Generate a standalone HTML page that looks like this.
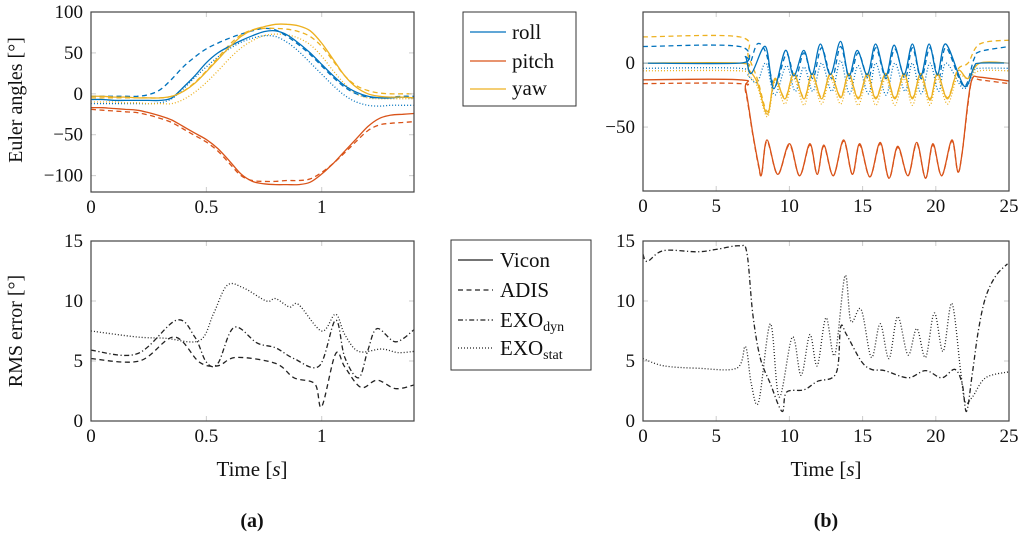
<!DOCTYPE html>
<html><head><meta charset="utf-8">
<style>
html,body{margin:0;padding:0;background:#fff;}
svg{display:block;font-family:"Liberation Serif",serif;}
</style></head>
<body>
<svg id="fig" width="1024" height="536" viewBox="0 0 1024 536" xmlns="http://www.w3.org/2000/svg">
<g id="marks"></g>
<g id="frames"></g>
<g>
  <rect x="463" y="12" width="113" height="94" fill="#fff" stroke="#333" stroke-width="1"/>
  <line x1="470" y1="32" x2="506" y2="32" stroke="#0072BD" stroke-width="1.3"/>
  <text x="512" y="39" font-size="21" fill="#111">roll</text>
  <line x1="470" y1="61" x2="506" y2="61" stroke="#D95319" stroke-width="1.3"/>
  <text x="512" y="68" font-size="21" fill="#111">pitch</text>
  <line x1="470" y1="89" x2="506" y2="89" stroke="#EDB120" stroke-width="1.3"/>
  <text x="512" y="95" font-size="21" fill="#111">yaw</text>
</g>
<g>
  <rect x="451" y="240" width="140" height="130" fill="#fff" stroke="#333" stroke-width="1"/>
  <line x1="458" y1="260" x2="493" y2="260" stroke="#222" stroke-width="1.2"/>
  <text x="500" y="267" font-size="21" fill="#111">Vicon</text>
  <line x1="458" y1="290" x2="493" y2="290" stroke="#222" stroke-width="1.2" stroke-dasharray="5,3.5"/>
  <text x="500" y="297" font-size="21" fill="#111">ADIS</text>
  <line x1="458" y1="320" x2="493" y2="320" stroke="#222" stroke-width="1.2" stroke-dasharray="5,2.5,1.2,2.5"/>
  <text x="500" y="327" font-size="21" fill="#111">EXO<tspan font-size="14" dy="4">dyn</tspan></text>
  <line x1="458" y1="348" x2="493" y2="348" stroke="#222" stroke-width="1.2" stroke-dasharray="1,2"/>
  <text x="500" y="355" font-size="21" fill="#111">EXO<tspan font-size="14" dy="4">stat</tspan></text>
</g>
<text x="22" y="100" font-size="20" text-anchor="middle" transform="rotate(-90 22 100)" fill="#111">Euler angles [°]</text>
<text x="22" y="331" font-size="20" text-anchor="middle" transform="rotate(-90 22 331)" fill="#111">RMS error [°]</text>
<text x="252" y="476" font-size="21" text-anchor="middle" fill="#111">Time [<tspan font-style="italic">s</tspan>]</text>
<text x="826" y="476" font-size="21" text-anchor="middle" fill="#111">Time [<tspan font-style="italic">s</tspan>]</text>
<text x="252" y="527" font-size="20" font-weight="bold" text-anchor="middle" fill="#111">(a)</text>
<text x="826" y="527" font-size="20" font-weight="bold" text-anchor="middle" fill="#111">(b)</text>
</svg>
<script>
// ---------- data: panel (a) Euler angles ----------
const tA = [0,0.05,0.1,0.15,0.2,0.25,0.3,0.35,0.4,0.45,0.5,0.55,0.6,0.65,0.7,0.75,0.8,0.85,0.9,0.95,1.0,1.05,1.1,1.15,1.2,1.25,1.3,1.35,1.4];
const rollViconA = [-7,-7,-8,-8,-8,-8,-8,-5,8,22,38,50,58,65,71,76,77,72,62,50,36,22,10,2,-3,-5,-5,-4,-5];
const rollAdisA  = [-3,-3,-3,-3,-3,-1,5,18,33,45,55,62,68,73,77,80,78,70,60,48,34,20,8,0,-4,-5,-4,-3,-3];
const rollStatA  = [-12,-12,-12,-12,-12,-12,-11,-6,6,20,33,45,55,63,68,71,70,63,52,38,24,10,-2,-10,-14,-15,-14,-14,-14];
const pitchViconA= [-17,-17,-18,-19,-20,-23,-27,-32,-40,-48,-56,-67,-82,-98,-107,-110,-111,-111,-111,-108,-98,-85,-70,-55,-40,-30,-26,-25,-24];
const pitchAdisA = [-19,-20,-21,-22,-23,-26,-30,-35,-43,-51,-59,-70,-85,-100,-106,-107,-107,-106,-106,-104,-96,-85,-72,-58,-45,-38,-36,-35,-34];
const yawViconA  = [-3,-3,-4,-4,-5,-5,-5,-3,3,13,27,42,57,70,78,82,85,85,83,77,62,42,22,8,0,-3,-4,-4,-5];
const yawAdisA   = [-5,-5,-5,-5,-5,-5,-5,-3,3,14,28,44,60,72,78,80,80,79,76,70,58,40,22,10,4,1,0,0,0];
const yawStatA   = [-10,-10,-10,-11,-11,-12,-12,-12,-7,2,14,28,43,56,65,71,73,72,68,60,46,28,12,0,-5,-6,-6,-6,-6];
// ---------- data: panel (a) RMS ----------
const tAdisRmsA = [0,0.21,0.36,0.47,0.55,0.63,0.8,0.88,0.97,1.0,1.06,1.1,1.17,1.24,1.32,1.4];
const vAdisRmsA = [5.2,5.0,7.0,4.9,4.6,5.3,4.8,3.6,3.1,1.2,5.6,4.5,2.8,3.4,2.7,3.0];
const tDynRmsA = [0,0.2,0.37,0.45,0.5,0.55,0.62,0.72,0.8,0.88,0.99,1.06,1.1,1.16,1.2,1.24,1.32,1.4];
const vDynRmsA = [5.9,5.6,8.4,7.0,4.9,4.8,7.8,6.5,6.1,5.2,4.6,8.4,5.3,3.6,5.9,7.7,6.6,7.6];
const tStatRmsA = [0,0.2,0.32,0.47,0.53,0.59,0.66,0.76,0.8,0.86,0.9,1.0,1.06,1.1,1.16,1.26,1.33,1.4];
const vStatRmsA = [7.5,7.0,6.9,6.7,8.9,11.3,11.1,10.0,10.2,9.5,9.7,7.5,8.9,7.2,5.8,6.0,5.7,5.8];
// ---------- data: panel (b) Euler angles ----------
const tRollB = [0,6.6,7.0,7.4,8.36,8.93,9.73,10.3,10.98,11.55,12.12,12.8,13.49,14.06,14.63,15.32,15.89,16.58,17.15,17.83,18.4,18.97,19.54,20.11,20.68,21.94,22.6,23,25];
const rollViconB = [0,0,5,-8,13,-20,10,-10,10,-9,15,-9,17,-10,10,-9,15,-10,14,-9,15,-10,15,-9,15,-18,-3,0,0];
const tRoll2B = [0,6.6,7.2,7.8,8.4,9.0,9.8,10.4,11.0,11.6,12.2,12.9,13.5,14.1,14.7,15.4,15.9,16.6,17.2,17.9,18.4,19.0,19.6,20.2,20.7,21.9,22.6,23,25];
const rollAdisB = [13,13,-2,15,8,-18,7,-12,8,-12,12,-12,13,-12,8,-12,12,-12,11,-12,12,-12,12,-12,12,-18,3,9,13];
const rollStatB = [-4,-4,-10,-15,0,-25,-2,-22,-3,-22,0,-22,2,-24,-2,-24,0,-25,0,-22,0,-24,0,-22,0,-20,-6,-4,-4];
const tYawB = [0,6.6,7.2,7.8,8.5,9.0,9.7,10.3,11.0,11.55,12.2,12.8,13.5,14.06,14.7,15.32,15.9,16.58,17.2,17.83,18.4,18.97,19.6,20.11,20.8,21.5,22.2,23,25];
const yawViconB = [0,0,-5,-15,-40,-12,-28,-8,-28,-8,-28,-8,-27,-8,-28,-8,-28,-8,-28,-8,-28,-8,-29,-8,-28,-6,-12,0,0];
const yawAdisB  = [20.5,20.5,5,-12,-38,-13,-27,-9,-27,-9,-27,-9,-26,-9,-27,-9,-27,-9,-27,-9,-27,-9,-28,-9,-27,-5,0,15,18];
const yawStatB  = [-6,-6,-10,-18,-42,-15,-32,-12,-33,-12,-32,-12,-32,-12,-33,-12,-33,-12,-33,-12,-33,-12,-33,-12,-32,-10,-12,-6,-6];
const tPitchB = [0,6.6,7.0,7.5,7.9,8.1,8.47,9.2,10.0,10.7,11.4,11.9,12.35,13.0,13.7,14.3,14.8,15.5,16.2,16.8,17.4,18.1,18.7,19.3,19.8,20.4,21.1,21.5,21.8,22.2,22.5,23,25];
const pitchViconB = [-13,-13,-20,-55,-80,-87,-60,-87,-63,-88,-63,-87,-64,-88,-60,-87,-63,-89,-62,-90,-65,-88,-62,-90,-63,-88,-60,-85,-70,-30,-12,-11,-14];
const pitchAdisB  = [-16,-16,-22,-56,-81,-87,-61,-87,-64,-88,-64,-87,-65,-88,-61,-87,-64,-89,-63,-90,-66,-88,-63,-90,-64,-88,-61,-85,-70,-32,-12,-13,-16];
// ---------- data: panel (b) RMS ----------
const tDynRmsB = [0,0.3,1.4,3.7,5.0,6.6,7.1,7.5,8.0,8.7,9.5,9.8,11.0,11.9,13.2,13.5,13.9,14.9,15.6,16.5,18.1,19.3,20.4,21.3,21.8,22.1,22.5,22.9,23.4,24.1,24.9];
const vDynRmsB = [13.9,13.3,14.2,14.1,14.3,14.6,14.0,8.9,5.3,3.1,0.8,2.4,2.6,3.3,4.0,7.8,7.2,5.0,4.3,4.2,3.6,4.2,3.6,4.3,3.1,0.8,4.0,7.5,10.3,12.1,13.1];
const tStatRmsB = [0,1.4,3.7,6.4,7.0,7.4,7.9,8.7,9.3,10.2,10.8,11.4,11.9,12.5,13.1,13.8,14.2,14.9,15.6,16.2,16.8,17.4,18.1,18.7,19.3,19.9,20.5,21.1,21.7,22.0,22.5,23.4,25];
const vStatRmsB = [5.2,4.6,4.4,4.4,6.2,3.1,1.6,8.1,2.0,7.0,3.8,7.2,4.6,8.6,5.5,12.1,8.3,9.3,5.3,8.1,5.2,8.7,5.5,7.7,5.3,9.0,5.8,9.8,4.1,1.6,2.0,3.6,4.1];
// ticks
const xTicksA = [0,0.5,1];
const xTicksB = [0,5,10,15,20,25];
const yTicksEulerA = [100,50,0,-50,-100];
const yTicksEulerB = [0,-50];
const yTicksRms = [15,10,5,0];

const NS='http://www.w3.org/2000/svg';
const marks=document.getElementById('marks');
const frames=document.getElementById('frames');
function scale(d0,d1,r0,r1){return v=>r0+(v-d0)/(d1-d0)*(r1-r0);}
const P = {
  a1:{x0:91,x1:414,y0:12,y1:192,xs:scale(0,1.4,91,414),ys:scale(-120,100,192,12)},
  a2:{x0:91,x1:414,y0:241,y1:421,xs:scale(0,1.4,91,414),ys:scale(0,15,421,241)},
  b1:{x0:643,x1:1009,y0:12,y1:191,xs:scale(0,25,643,1009),ys:scale(-100,40,191,12)},
  b2:{x0:643,x1:1009,y0:241,y1:421,xs:scale(0,25,643,1009),ys:scale(0,15,421,241)}
};
const BLUE='#0072BD',RED='#D95319',YEL='#EDB120',BLK='#222';
const DASH={solid:null,dash:'5,3.5',dashdot:'5,2.5,1.2,2.5',dot:'1,2'};
function smoothPath(pts){
  let d='M'+pts[0][0].toFixed(1)+','+pts[0][1].toFixed(1);
  for(let i=0;i<pts.length-1;i++){
    const p0=pts[Math.max(i-1,0)],p1=pts[i],p2=pts[i+1],p3=pts[Math.min(i+2,pts.length-1)];
    const k=1/6;
    const c1=[p1[0]+(p2[0]-p0[0])*k,p1[1]+(p2[1]-p0[1])*k];
    const c2=[p2[0]-(p3[0]-p1[0])*k,p2[1]-(p3[1]-p1[1])*k];
    d+=' C'+c1[0].toFixed(1)+','+c1[1].toFixed(1)+' '+c2[0].toFixed(1)+','+c2[1].toFixed(1)+' '+p2[0].toFixed(1)+','+p2[1].toFixed(1);
  }
  return d;
}
function series(panel,ts,vs,color,style,name){
  const p=P[panel];
  const pts=ts.map((t,i)=>[p.xs(t),p.ys(vs[i])]);
  const path=document.createElementNS(NS,'path');
  path.setAttribute('d',smoothPath(pts));
  path.setAttribute('fill','none');
  path.setAttribute('stroke',color);
  path.setAttribute('stroke-width','1.3');
  if(DASH[style]) path.setAttribute('stroke-dasharray',DASH[style]);
  path.setAttribute('clip-path','url(#clip-'+panel+')');
  
  
  marks.appendChild(path);
}
// clip paths
const defs=document.createElementNS(NS,'defs');
for(const k in P){const p=P[k];
  const cp=document.createElementNS(NS,'clipPath');cp.setAttribute('id','clip-'+k);
  const r=document.createElementNS(NS,'rect');
  r.setAttribute('x',p.x0);r.setAttribute('y',p.y0);r.setAttribute('width',p.x1-p.x0);r.setAttribute('height',p.y1-p.y0);
  cp.appendChild(r);defs.appendChild(cp);}
document.getElementById('fig').prepend(defs);

function axes(panel,xt,yt,name){
  const p=P[panel];
  const g=document.createElementNS(NS,'g');
  
  
  let s='';
  xt.forEach(v=>{const x=p.xs(v);
    s+=`<line x1="${x}" y1="${p.y1}" x2="${x}" y2="${p.y1-5}" stroke="#ccc"/><line x1="${x}" y1="${p.y0}" x2="${x}" y2="${p.y0+5}" stroke="#ccc"/>`;
    s+=`<text x="${x}" y="${p.y1+21}" font-size="19" text-anchor="middle" fill="#111">${v}</text>`;});
  yt.forEach(v=>{const y=p.ys(v);
    s+=`<line x1="${p.x0}" y1="${y}" x2="${p.x0+5}" y2="${y}" stroke="#ccc"/><line x1="${p.x1}" y1="${y}" x2="${p.x1-5}" y2="${y}" stroke="#ccc"/>`;
    s+=`<text x="${p.x0-8}" y="${y+6}" font-size="19" text-anchor="end" fill="#111">${v<0?'\u2212'+(-v):v}</text>`;});
  s+=`<rect x="${p.x0}" y="${p.y0}" width="${p.x1-p.x0}" height="${p.y1-p.y0}" fill="none" stroke="#444" stroke-width="1.2"/>`;
  g.innerHTML=s;
  frames.appendChild(g);
}
axes('a1',xTicksA,yTicksEulerA,'axes-euler-a');
axes('a2',xTicksA,yTicksRms,'axes-rms-a');
axes('b1',xTicksB,yTicksEulerB,'axes-euler-b');
axes('b2',xTicksB,yTicksRms,'axes-rms-b');

series('a1',tA,rollStatA,BLUE,'dot','roll-exo-stat-a');
series('a1',tA,yawStatA,YEL,'dot','yaw-exo-stat-a');
series('a1',tA,rollAdisA,BLUE,'dash','roll-adis-a');
series('a1',tA,yawAdisA,YEL,'dash','yaw-adis-a');
series('a1',tA,pitchAdisA,RED,'dash','pitch-adis-a');
series('a1',tA,rollViconA,BLUE,'solid','roll-vicon-a');
series('a1',tA,yawViconA,YEL,'solid','yaw-vicon-a');
series('a1',tA,pitchViconA,RED,'solid','pitch-vicon-a');

series('a2',tAdisRmsA,vAdisRmsA,BLK,'dash','rms-adis-a');
series('a2',tDynRmsA,vDynRmsA,BLK,'dashdot','rms-exo-dyn-a');
series('a2',tStatRmsA,vStatRmsA,BLK,'dot','rms-exo-stat-a');

series('b1',tRoll2B,rollStatB,BLUE,'dot','roll-exo-stat-b');
series('b1',tYawB,yawStatB,YEL,'dot','yaw-exo-stat-b');
series('b1',tRoll2B,rollAdisB,BLUE,'dash','roll-adis-b');
series('b1',tYawB,yawAdisB,YEL,'dash','yaw-adis-b');
series('b1',tPitchB,pitchAdisB,RED,'dash','pitch-adis-b');
series('b1',tYawB,yawViconB,YEL,'solid','yaw-vicon-b');
series('b1',tRollB,rollViconB,BLUE,'solid','roll-vicon-b');
series('b1',tPitchB,pitchViconB,RED,'solid','pitch-vicon-b');

series('b2',tDynRmsB,vDynRmsB,BLK,'dashdot','rms-exo-dyn-b');
series('b2',tStatRmsB,vStatRmsB,BLK,'dot','rms-exo-stat-b');
</script>
</body></html>
